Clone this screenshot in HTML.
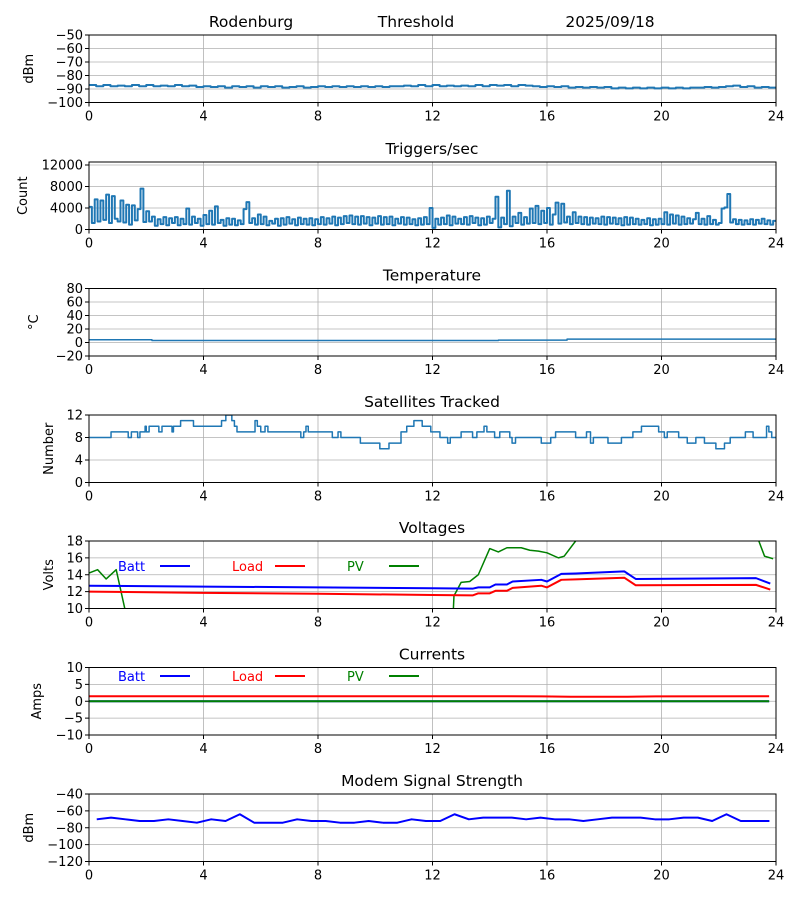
<!DOCTYPE html>
<html><head><meta charset="utf-8">
<style>
html,body{margin:0;padding:0;background:#fff;}
svg{display:block;font-family:"DejaVu Sans","Liberation Sans",sans-serif;}
</style></head>
<body>
<svg id="fig" width="800" height="900" viewBox="0 0 800 900" xmlns="http://www.w3.org/2000/svg">
<text x="251" y="27" font-size="15.5" text-anchor="middle">Rodenburg</text>
<text x="416" y="27" font-size="15.5" text-anchor="middle">Threshold</text>
<text x="610" y="27" font-size="15.5" text-anchor="middle">2025/09/18</text>
</svg>
<script>
// ---------- DATA ----------
const xTicks = [0,4,8,12,16,20,24];
const rssiValues = [-87,-88,-87,-88,-87.5,-88,-87,-88,-87,-88,-87.5,-88,-87,-88,-87.5,-88.5,-88,-88.5,-88,-89,-88,-88.5,-88,-89,-88,-88.5,-88,-89,-88.5,-88,-89,-88.5,-88,-88.5,-88,-88.5,-88,-88.5,-88,-88.5,-88,-88.5,-88,-88,-87.5,-88,-87,-88,-87,-88,-87.5,-88,-87.5,-88,-87,-88,-87,-87.5,-87,-88,-87,-87.5,-88,-88.5,-88,-88.5,-88,-89,-88.5,-89,-88.5,-89,-88.5,-89.5,-89,-89.5,-89,-89.5,-89,-89.5,-89,-89.5,-89,-89.5,-89,-89,-88.5,-89,-88.5,-88,-87.5,-88.5,-88,-89,-88.5,-89,-88.5];
const triggerValues = [4200,1200,5600,1500,5400,1800,6500,1200,6200,2000,
1500,5400,1300,4600,900,4500,1700,3800,7600,1400,
3400,1500,2400,700,1900,1000,2300,800,2100,1200,
2300,800,2000,1000,3900,900,2400,1200,2000,700,
2700,1000,3500,900,4300,1200,1800,700,2100,900,
2000,800,1700,1000,3800,5100,1200,2100,900,2800,
1000,2400,800,1600,1100,2000,700,2100,900,2300,
1100,1900,800,2200,1000,2000,900,2100,800,1900,
1000,2300,900,2100,1100,2400,800,2200,1000,2500,
1200,2600,1000,2400,900,2500,1100,2300,800,2200,
1100,2500,900,2300,1000,2400,800,2000,1100,2300,
900,2200,1000,1900,800,2100,900,2300,1000,4000,
300,2000,900,2200,1000,2600,800,2400,1100,2000,
1000,2300,900,2500,1200,2200,800,2100,900,2400,
1200,2000,6100,400,2200,1000,7200,600,2400,1200,
3100,900,2300,1100,3900,1200,4400,1000,3500,1200,
4000,900,2800,5000,1100,4800,1300,2400,1000,3200,
1200,2400,1000,2300,900,2200,1100,2100,1000,2400,
900,2300,1100,2200,1000,2100,800,2300,900,2200,
1000,2000,900,1800,1000,2100,800,1900,900,2000,
1000,3200,900,2800,1100,2600,900,2400,1000,2100,
1100,1900,3100,1000,2000,900,2500,1000,1800,900,
1200,3900,4100,6600,1300,1900,1000,1800,900,1700,
1000,1900,900,1800,1100,2000,1000,1700,900,1600,1500];
const tempHours = [0,2.2,14.3,16.7,24];
const tempValues = [4,3,3.5,5,5];
const satHours = [0,0.77,1.37,1.48,1.7,1.78,1.96,2.0,2.1,2.44,2.55,2.9,2.95,3.2,3.65,4.63,4.78,4.99,5.08,5.17,5.8,5.88,6.0,6.15,6.25,7.4,7.5,7.58,7.66,8.5,8.7,8.8,9.48,10.16,10.48,10.9,11.1,11.35,11.64,11.94,12.26,12.53,12.62,13.0,13.4,13.55,13.8,13.9,14.17,14.35,14.7,14.78,14.9,15.8,16.13,16.3,17.0,17.38,17.52,17.62,18.13,18.6,19.0,19.3,19.9,20.1,20.2,20.6,20.9,21.2,21.5,21.9,22.2,22.4,22.93,23.2,23.67,23.75,23.85,24];
const satValues = [8,9,8,9,8,9,10,9,10,9,10,9,10,11,10,11,12,11,10,9,11,10,9,10,9,8,9,10,9,8,9,8,7,6,7,9,10,11,10,9,8,7,8,9,8,9,10,9,8,9,8,7,8,7,8,9,8,9,7,8,7,8,9,10,9,8,9,8,7,8,7,6,7,8,9,8,10,9,8,8];
const voltHours = [0,4,8,12,13.4,13.6,14.0,14.2,14.6,14.8,15.8,16.0,16.5,17.0,18.7,19.1,23.3,23.8];
const battVolts = [12.7,12.6,12.5,12.4,12.35,12.5,12.5,12.85,12.85,13.2,13.4,13.2,14.1,14.15,14.4,13.5,13.6,12.95];
const loadVolts = [12.0,11.85,11.75,11.6,11.55,11.8,11.8,12.1,12.1,12.45,12.7,12.5,13.4,13.45,13.65,12.75,12.8,12.25];
const pvHours = [0,0.3,0.6,0.95,1.25,1.6,12.6,12.75,13.0,13.3,13.6,14.0,14.3,14.6,15.1,15.4,15.7,16.0,16.4,16.6,17.0,17.5,23.0,23.4,23.6,23.9];
const pvVolts = [14.2,14.6,13.5,14.6,10,0,0,11.5,13.1,13.2,14.0,17.1,16.7,17.2,17.2,16.9,16.8,16.6,16.0,16.2,18.0,20,20,18.0,16.2,15.9];
const ampHours = [0,4,8,12,16,17,19,20,24];
const battAmps = [0,0,0,0,0,0,0,0,0];
const loadAmps = [1.5,1.5,1.5,1.5,1.45,1.35,1.35,1.45,1.5];
const pvAmps = [0,0,0,0,0,0,0,0,0];
const modemValues = [-70,-68,-70,-72,-72,-70,-72,-74,-70,-72,-64,-74,-74,-74,-70,-72,-72,-74,-74,-72,-74,-74,-70,-72,-72,-64,-70,-68,-68,-68,-70,-68,-70,-70,-72,-70,-68,-68,-68,-70,-70,-68,-68,-72,-64,-72,-72,-72];

// ---------- DRAWING ----------
const NS="http://www.w3.org/2000/svg";
const svg=document.getElementById('fig');
const L=89,R=776;
function mk(tag,attrs,parent){const e=document.createElementNS(NS,tag);for(const k in attrs)e.setAttribute(k,attrs[k]);(parent||svg).appendChild(e);return e;}
const xs=h=>L+(h/24)*(R-L);

function panel(o){
  const g=mk('g',{});
  
  
  const top=o.top,bot=o.top+67.5;
  const ys=v=>bot-(v-o.min)/(o.max-o.min)*(bot-top);
  const cid='clip-'+o.name;
  const cp=mk('clipPath',{id:cid},g);mk('rect',{x:L,y:top,width:R-L,height:bot-top},cp);
  xTicks.forEach(t=>{const l=mk('line',{x1:xs(t),x2:xs(t),y1:top,y2:bot,stroke:'#b0b0b0','stroke-width':0.8},g);
    });
  o.yt.forEach(t=>{const l=mk('line',{x1:L,x2:R,y1:ys(t),y2:ys(t),stroke:'#b0b0b0','stroke-width':0.8},g);
    });
  const sg=mk('g',{'clip-path':'url(#'+cid+')'},g);
  o.series.forEach(s=>{
    let d='';
    for(let i=0;i<s.y.length;i++){
      const X=xs(s.x[i]),Y=ys(s.y[i]);
      if(i===0)d+='M'+X+' '+Y;
      else if(s.step){d+='L'+X+' '+ys(s.y[i-1])+'L'+X+' '+Y;}
      else d+='L'+X+' '+Y;
    }
    const p=mk('path',{d:d,fill:'none',stroke:s.color,'stroke-width':s.w||1.5,'stroke-linejoin':'round'},sg);
    
    
  });
  const fr=mk('rect',{x:L,y:top,width:R-L,height:bot-top,fill:'none',stroke:'#000','stroke-width':1},g);
  
  xTicks.forEach(t=>{mk('line',{x1:xs(t),x2:xs(t),y1:bot,y2:bot+4,stroke:'#000'},g);
    const tx=mk('text',{x:xs(t),y:bot+18,'font-size':13,'text-anchor':'middle'},g);tx.textContent=t;
    });
  o.yt.forEach(t=>{mk('line',{x1:L-4,x2:L,y1:ys(t),y2:ys(t),stroke:'#000'},g);
    const tx=mk('text',{x:L-6,y:ys(t)+4.5,'font-size':13,'text-anchor':'end'},g);tx.textContent=String(t).replace('-','\u2212');
    });
  const yl=mk('text',{x:0,y:0,'font-size':13,'text-anchor':'middle',transform:'translate('+o.ylx+','+((top+bot)/2)+') rotate(-90)'},g);
  yl.textContent=o.ylabel;
  if(o.title){const tt=mk('text',{x:432,y:top-8,'font-size':15.5,'text-anchor':'middle'},g);tt.textContent=o.title;
    }
  if(o.legend){
    const lg=mk('g',{},g);
    const items=[['Batt','blue',118,160],['Load','red',232,275],['PV','green',347,389]];
    const ly=top+o.legend;
    items.forEach(it=>{const t=mk('text',{x:it[2],y:ly,'font-size':13,fill:it[1]},lg);t.textContent=it[0];
      
      mk('line',{x1:it[3],x2:it[3]+30,y1:ly-5,y2:ly-5,stroke:it[1],'stroke-width':2},lg);});
  }
}
const h025=rssiValues.map((v,i)=>i*0.25);
const h01=triggerValues.map((v,i)=>i*0.1);
const mH=modemValues.map((v,i)=>0.27+i*0.5);
panel({name:'rssi',top:35,min:-100,max:-50,yt:[-100,-90,-80,-70,-60,-50],ylabel:'dBm',ylx:33,
  series:[{name:'rssi-line',x:h025,y:rssiValues,color:'#1f77b4',w:2,step:true}]});
panel({name:'triggers',top:162,min:0,max:12560,yt:[0,4000,8000,12000],ylabel:'Count',ylx:27,title:'Triggers/sec',
  series:[{name:'triggers-line',x:h01,y:triggerValues,color:'#1f77b4',step:true,w:2}]});
panel({name:'temperature',top:288.5,min:-20,max:80,yt:[-20,0,20,40,60,80],ylabel:'°C',ylx:38,title:'Temperature',
  series:[{name:'temperature-line',x:tempHours,y:tempValues,color:'#1f77b4',step:true}]});
panel({name:'satellites',top:415,min:0,max:12,yt:[0,4,8,12],ylabel:'Number',ylx:53,title:'Satellites Tracked',
  series:[{name:'satellites-line',x:satHours,y:satValues,color:'#1f77b4',step:true}]});
panel({name:'voltages',top:541,min:10,max:18,yt:[10,12,14,16,18],ylabel:'Volts',ylx:53,title:'Voltages',legend:30,
  series:[{name:'pv-volts-line',x:pvHours,y:pvVolts,color:'green'},{name:'batt-volts-line',x:voltHours,y:battVolts,color:'blue',w:2},{name:'load-volts-line',x:voltHours,y:loadVolts,color:'red',w:2}]});
panel({name:'currents',top:667.5,min:-10,max:10,yt:[-10,-5,0,5,10],ylabel:'Amps',ylx:41,title:'Currents',legend:13.5,
  series:[{name:'batt-amps-line',x:ampHours.map(h=>h*0.99),y:battAmps,color:'blue',w:2},{name:'pv-amps-line',x:ampHours.map(h=>h*0.99),y:pvAmps,color:'green',w:2},{name:'load-amps-line',x:ampHours.map(h=>h*0.99),y:loadAmps,color:'red',w:2}]});
panel({name:'modem',top:794,min:-120,max:-40,yt:[-120,-100,-80,-60,-40],ylabel:'dBm',ylx:33,title:'Modem Signal Strength',
  series:[{name:'modem-line',x:mH,y:modemValues,color:'blue',w:2}]});
</script>
</body></html>
